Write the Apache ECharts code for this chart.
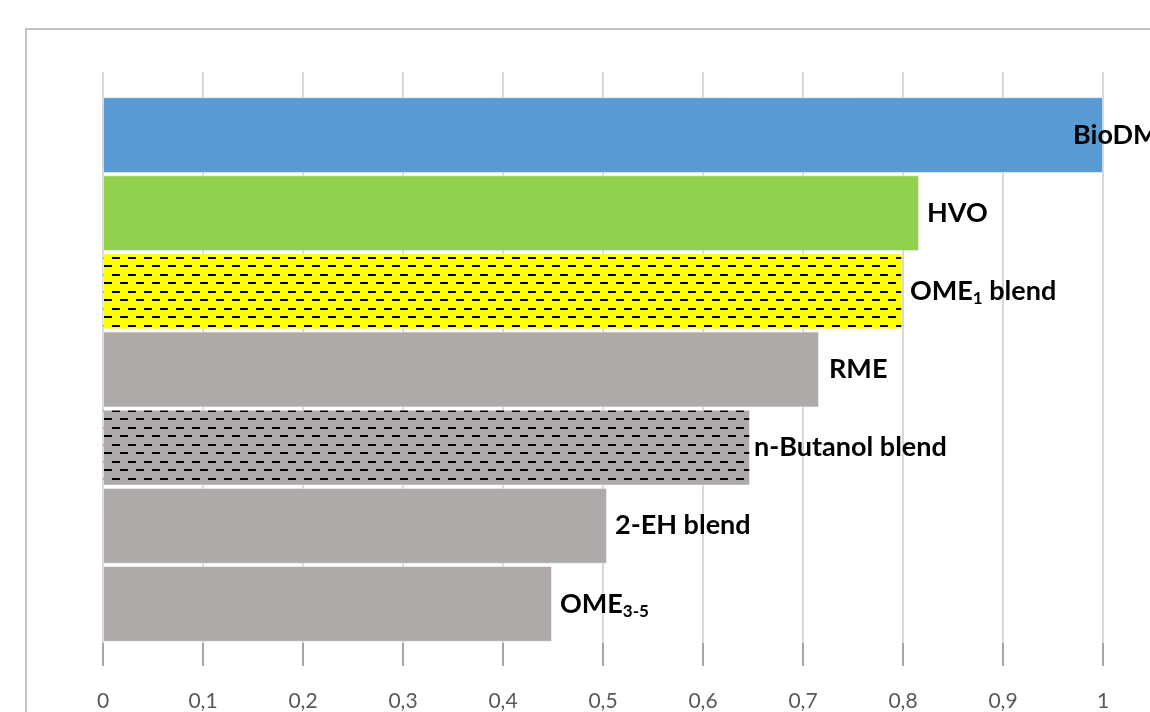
<!DOCTYPE html>
<html>
<head>
<meta charset="utf-8">
<script src="https://cdn.jsdelivr.net/npm/echarts@6/dist/echarts.min.js"></script>
<style>
  html, body { margin: 0; padding: 0; background: #fff; }
  #chart { width: 1150px; height: 712px; }
</style>
</head>
<body>
<div id="chart"></div>
<script>
// Fuels, top to bottom, with their relative values
const fuels = ['BioDM', 'HVO', 'OME1 blend', 'RME', 'n-Butanol blend', '2-EH blend', 'OME3-5'];
const values = [1.0, 0.816, 0.799, 0.716, 0.647, 0.504, 0.449];
const tickLabels = ['0', '0,1', '0,2', '0,3', '0,4', '0,5', '0,6', '0,7', '0,8', '0,9', '1'];

// Labels with subscripts written as rich text
const labelText = [
  '{b|BioDM}',
  '{b|HVO}',
  '{b|OME}{s|1}{b| blend}',
  '{b|RME}',
  '{b|n-Butanol blend}',
  '{b|2-EH blend}',
  '{b|OME}{s|3-5}'
];

// Horizontal dash hatch on a coloured background
function dashPattern(bg) {
  const c = document.createElement('canvas');
  c.width = 16; c.height = 17;
  const g = c.getContext('2d');
  g.fillStyle = bg;
  g.fillRect(0, 0, 16, 17);
  g.fillStyle = '#000';
  g.fillRect(0, 2, 8, 2);
  g.fillRect(8, 10, 8, 2);
  return { image: c, repeat: 'repeat' };
}

const barColors = [
  '#5b9bd5',
  '#92d050',
  dashPattern('#ffff00'),
  '#aeaaaa',
  dashPattern('#aeaaaa'),
  '#aeaaaa',
  '#aeaaaa'
];
const labelOffsets = [[-38, 0], [0, 0], [0, 0], [2, 0], [-4, 0], [0, 0], [0, 0]];

const chart = echarts.init(document.getElementById('chart'), null, { renderer: 'canvas' });

const gridColor = '#d9d9d9';
const font = 'Lato, "Open Sans", sans-serif';

chart.setOption({
  animation: false,
  backgroundColor: '#fff',
  graphic: [{
    type: 'rect',
    shape: { x: 26, y: 29, width: 1300, height: 900 },
    style: { fill: 'none', stroke: '#c3c3c3', lineWidth: 2 },
    z: 0
  }],
  grid: [
    { left: 103, width: 1000, top: 96, bottom: 67 },
    { left: 103, width: 1000, top: 72, height: 24 }
  ],
  xAxis: [{
    gridIndex: 0,
    type: 'value',
    min: 0, max: 1, interval: 0.1,
    axisLine: { show: false },
    axisTick: { show: true, inside: false, length: 23, lineStyle: { color: '#a6a6a6', width: 2 } },
    splitLine: { show: true, lineStyle: { color: gridColor, width: 2 } },
    axisLabel: {
      margin: 48,
      color: '#595959',
      fontFamily: font,
      fontSize: 21,
      formatter: (v) => tickLabels[Math.round(v * 10)]
    }
  }, {
    gridIndex: 1,
    type: 'value',
    min: 0, max: 1, interval: 0.1,
    axisLine: { show: false },
    axisTick: { show: false },
    axisLabel: { show: false },
    splitLine: { show: true, lineStyle: { color: gridColor, width: 2 } }
  }],
  yAxis: [{
    gridIndex: 0,
    type: 'category',
    data: fuels,
    inverse: true,
    axisLine: { show: false },
    axisTick: { show: false },
    axisLabel: { show: false }
  }, {
    gridIndex: 1,
    type: 'category',
    data: [''],
    axisLine: { show: false },
    axisTick: { show: false },
    axisLabel: { show: false }
  }],
  series: [{
    type: 'bar',
    xAxisIndex: 0,
    yAxisIndex: 0,
    barCategoryGap: '3%',
    data: values.map((v, i) => ({
      value: v,
      itemStyle: { color: barColors[i] },
      label: { offset: labelOffsets[i] }
    })),
    itemStyle: { borderColor: 'rgba(255,255,255,0.45)', borderWidth: 1 },
    label: {
      show: true,
      position: 'right',
      distance: 8,
      formatter: (p) => labelText[p.dataIndex],
      rich: {
        b: { fontFamily: font, fontWeight: 'bold', fontSize: 27, color: '#000', lineHeight: 32 },
        s: { fontFamily: font, fontWeight: 'bold', fontSize: 17, color: '#000', lineHeight: 15, verticalAlign: 'bottom' }
      }
    },
    z: 3
  }, {
    type: 'scatter',
    xAxisIndex: 1,
    yAxisIndex: 1,
    data: [],
    silent: true
  }]
});
</script>
</body>
</html>
